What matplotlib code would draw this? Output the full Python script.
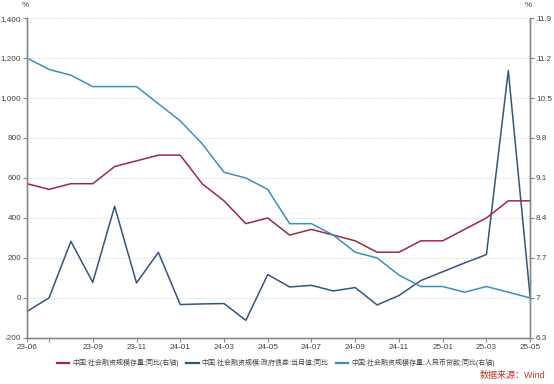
import matplotlib
matplotlib.use("Agg")
import matplotlib.pyplot as plt
import numpy as np

plt.rcParams['font.family'] = ['Liberation Sans', 'Noto Sans CJK SC', 'DejaVu Sans']

# Monate 23-06 .. 25-05
monate = ['23-06', '23-07', '23-08', '23-09', '23-10', '23-11', '23-12',
          '24-01', '24-02', '24-03', '24-04', '24-05', '24-06', '24-07',
          '24-08', '24-09', '24-10', '24-11', '24-12', '25-01', '25-02',
          '25-03', '25-04', '25-05']

# 社融存量同比 (rechte Achse)
sheron_cunliang = [9.0, 8.9, 9.0, 9.0, 9.3, 9.4, 9.5, 9.5, 9.0, 8.7, 8.3, 8.4,
                   8.1, 8.2, 8.1, 8.0, 7.8, 7.8, 8.0, 8.0, 8.2, 8.4, 8.7, 8.7]
# 政府债券当月值同比 (linke Achse)
zhengfu_zhaiquan = [-67, 0, 283, 78, 458, 75, 228, -33, -30, -28, -112, 117,
                    55, 63, 35, 52, -35, 12, 87, 131, 175, 217, 1137, 3]
# 人民币贷款同比 (rechte Achse)
renminbi_daikuan = [11.2, 11.0, 10.9, 10.7, 10.7, 10.7, 10.4, 10.1, 9.7, 9.2,
                    9.1, 8.9, 8.3, 8.3, 8.1, 7.8, 7.7, 7.4, 7.2, 7.2, 7.1, 7.2,
                    7.1, 7.0]

labels = ['中国:社会融资规模存量:同比(右轴)',
          '中国:社会融资规模:政府债券:当月值:同比',
          '中国:社会融资规模存量:人民币贷款:同比(右轴)']

links_ticks = [-200, 0, 200, 400, 600, 800, 1000, 1200, 1400]
rechts_ticks = [6.3, 7, 7.7, 8.4, 9.1, 9.8, 10.5, 11.2, 11.9]
rechts_labels = ['6.3', '7', '7.7', '8.4', '9.1', '9.8', '10.5', '11.2', '11.9']

farbe_rot = '#9b2a40'
farbe_dunkel = '#34557e'
farbe_hell = '#3a8fc0'
achsenfarbe = '#888888'
textfarbe = '#444444'

x = np.arange(len(monate))

fig = plt.figure(figsize=(5.54, 3.84), dpi=100)
ax = fig.add_axes([0.049, 0.12, 0.908, 0.833])
ax2 = ax.twinx()

ax.plot(x, zhengfu_zhaiquan, color=farbe_dunkel, lw=1.1, zorder=3)
ax2.plot(x, sheron_cunliang, color=farbe_rot, lw=1.1)
ax2.plot(x, renminbi_daikuan, color=farbe_hell, lw=1.1)

ax.set_xlim(0, len(monate) - 1)
ax.set_ylim(-200, 1400)
ax2.set_ylim(6.3, 11.9)

ax.set_yticks(links_ticks)
ax.set_yticklabels([f'{v:,}' for v in links_ticks])
ax2.set_yticks(rechts_ticks)
ax2.set_yticklabels(rechts_labels)

xt = [0, 1] + list(range(3, len(monate), 2))
ax.set_xticks(xt)
ax.set_xticklabels(['' if i == 1 else monate[i] for i in xt])

for g in links_ticks[1:]:
    ax.axhline(g, color='#cccccc', lw=0.6, ls=(0, (1.5, 2)), zorder=0)

for a in (ax, ax2):
    a.spines['top'].set_visible(False)
    for s in ('left', 'right', 'bottom'):
        a.spines[s].set_color(achsenfarbe)
        a.spines[s].set_linewidth(1.0)
    a.tick_params(labelsize=5.9, colors=textfarbe, length=3, width=0.8,
                  pad=1.2)
    a.tick_params(axis='both', color=achsenfarbe)

fig.text(0.045, 0.985, '%', fontsize=5.9, color=textfarbe, ha='center',
         va='center')
fig.text(0.953, 0.985, '%', fontsize=5.9, color=textfarbe, ha='center',
         va='center')

# Legende
hs = [plt.Line2D([], [], color=farbe_rot, lw=1.6),
      plt.Line2D([], [], color=farbe_dunkel, lw=1.6),
      plt.Line2D([], [], color=farbe_hell, lw=1.6)]
fig.legend(hs, labels, loc='center', bbox_to_anchor=(0.498, 0.055), ncol=3,
           frameon=False, fontsize=5.0, handlelength=1.8, columnspacing=1.0,
           handletextpad=0.45, labelcolor=textfarbe)

fig.text(0.985, 0.023, '数据来源：Wind', fontsize=6.5, color='#c0392b',
         ha='right', va='center')

fig.savefig('out.png', dpi=100)
